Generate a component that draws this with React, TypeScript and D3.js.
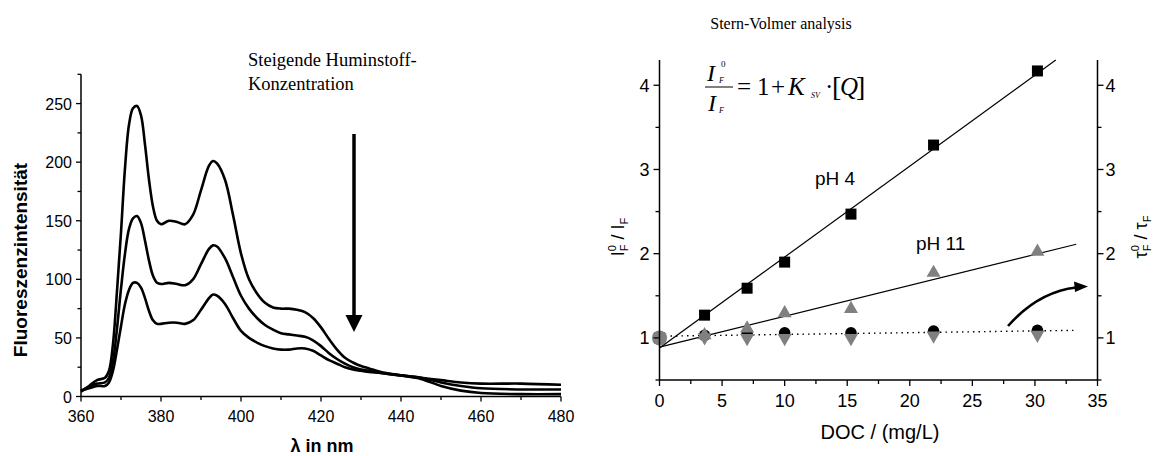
import React from 'react';
import * as d3 from 'd3';

// ---------- Left chart data (fluorescence spectra) ----------
const wavelengths = [360,362,364,366,367,368,369,370,371,372,373,374,375,376,377,378,379,380,382,384,386,388,390,392,393,394,396,398,400,402,404,406,408,410,412,414,416,418,420,422,424,426,428,430,432,435,440,445,450,455,460,470,480];
const spectrumLow = [4,9,14,16,22,45,90,140,195,232,246,248,240,215,185,162,150,147,150,149,147,155,176,197,201,199,185,155,122,100,88,80,76,75,75,74,72,67,59,49,40,33,29,26,24,21,18,15,9,5,3,2,2];
const spectrumMid = [5,8,11,12,16,30,58,92,122,143,152,154,148,133,116,103,97,96,97,96,95,100,113,126,129,128,118,102,86,75,67,61,57,54,53,52,51,48,43,37,32,28,25,23,22,20,18,16,12,9,7,6,6];
const spectrumHigh = [5,7,9,9,12,22,40,60,79,91,97,97,93,84,73,65,62,62,63,63,62,65,74,84,87,86,79,67,56,50,46,43,41,40,40,41,41,39,35,31,28,25,23,22,21,20,18,16,14,12,11,11,10];
const leftXTicks = [360,380,400,420,440,460,480];
const leftYTicks = [0,50,100,150,200,250];

// ---------- Right chart data (Stern-Volmer) ----------
const doc = [0, 3.6, 7, 10, 15.3, 21.9, 30.2];
const ratioPH4 = [1.0, 1.27, 1.59, 1.9, 2.47, 3.29, 4.17];
const ratioPH11 = [1.0, 1.04, 1.12, 1.3, 1.35, 1.78, 2.03];
const tauPH4 = [1.0, 1.03, 1.05, 1.06, 1.06, 1.08, 1.09];
const tauPH11 = [1.0, 1.0, 0.99, 0.99, 0.99, 1.02, 1.03];
const fitPH4 = { a: 0.88, b: 0.108, xMax: 31.7 };
const fitPH11 = { a: 0.89, b: 0.0367, xMax: 33.3 };
const fitTau = { a: 1.02, b: 0.0021, xMax: 33.3 };
const rightXTicks = [0,5,10,15,20,25,30,35];
const rightYTicks = [1,2,3,4];

const GRAY = '#808080';
const SANS = 'Arial, "Liberation Sans", Helvetica, sans-serif';
const SERIF = '"Times New Roman", "Liberation Serif", Times, serif';

export default function App() {
  const W = 1156, H = 456;

  const xL = d3.scaleLinear().domain([360, 480]).range([81, 561]);
  const yL = d3.scaleLinear().domain([0, 275]).range([396.5, 74.3]);
  const lineL = d3.line<number>()
    .x((_, i) => xL(wavelengths[i]))
    .y((d) => yL(d))
    .curve(d3.curveCatmullRom.alpha(0.5));

  const xR = d3.scaleLinear().domain([0, 35]).range([659.5, 1097.5]);
  const yR = d3.scaleLinear().domain([0.5, 4.3]).range([380, 60]);

  const leftMinorX = d3.range(370, 480, 20);
  const leftMinorY = d3.range(25, 276, 50);
  const rightMinorX = d3.range(2.5, 35, 5);
  const rightMinorY = [0.5, 1.5, 2.5, 3.5];

  const fitLine = (f: { a: number; b: number; xMax: number }) => {
    const yTop = 4.3;
    let x2 = f.xMax;
    if (f.a + f.b * x2 > yTop) x2 = (yTop - f.a) / f.b;
    return { x1: xR(0), y1: yR(f.a), x2: xR(x2), y2: yR(f.a + f.b * x2) };
  };
  const l4 = fitLine(fitPH4);
  const l11 = fitLine(fitPH11);
  const lt = fitLine(fitTau);

  const sq = 11;
  const triUp = (cx: number, cy: number, s = 14) => {
    const h = s * 0.87;
    return `M${cx},${cy - h * 0.62} L${cx + s / 2},${cy + h * 0.38} L${cx - s / 2},${cy + h * 0.38} Z`;
  };
  const triDown = (cx: number, cy: number, s = 14) => {
    const h = s * 0.87;
    return `M${cx},${cy + h * 0.62} L${cx + s / 2},${cy - h * 0.38} L${cx - s / 2},${cy - h * 0.38} Z`;
  };

  return (
    <svg width={W} height={H} viewBox={`0 0 ${W} ${H}`}
      style={{ position: 'absolute', left: 0, top: 0, background: '#fff' }}>
      {/* ================= LEFT CHART ================= */}
      <g>
        {[spectrumLow, spectrumMid, spectrumHigh].map((s, k) => (
          <path key={k} d={lineL(s) || ''} fill="none" stroke="#000" strokeWidth={2.6} strokeLinejoin="round" />
        ))}
        <line x1={xL(360)} x2={xL(480)} y1={yL(0)} y2={yL(0)} stroke="#000" strokeWidth={1.5} />
        <line x1={xL(360)} x2={xL(360)} y1={yL(0)} y2={yL(275)} stroke="#000" strokeWidth={1.5} />
        {leftXTicks.map((t) => (
          <g key={'lx' + t}>
            <line x1={xL(t)} x2={xL(t)} y1={yL(0)} y2={yL(0) + 5} stroke="#000" strokeWidth={1.3} />
            <text x={xL(t)} y={yL(0) + 25} textAnchor="middle" fontFamily={SANS} fontSize={16}>{t}</text>
          </g>
        ))}
        {leftMinorX.map((t) => (
          <line key={'lmx' + t} x1={xL(t)} x2={xL(t)} y1={yL(0)} y2={yL(0) + 3.5} stroke="#000" strokeWidth={1.3} />
        ))}
        {leftYTicks.map((t) => (
          <g key={'ly' + t}>
            <line x1={xL(360) - 5} x2={xL(360)} y1={yL(t)} y2={yL(t)} stroke="#000" strokeWidth={1.3} />
            <text x={xL(360) - 9} y={yL(t) + 6} textAnchor="end" fontFamily={SANS} fontSize={16}>{t}</text>
          </g>
        ))}
        {leftMinorY.map((t) => (
          <line key={'lmy' + t} x1={xL(360) - 3.5} x2={xL(360)} y1={yL(t)} y2={yL(t)} stroke="#000" strokeWidth={1.3} />
        ))}
        <text x={322} y={452} textAnchor="middle" fontFamily={SANS} fontSize={18} fontWeight="bold">λ in nm</text>
        <text transform="translate(27,260) rotate(-90)" textAnchor="middle" fontFamily={SANS} fontSize={19} fontWeight="bold">Fluoreszenzintensität</text>
        <text x={248} y={66} fontFamily={SERIF} fontSize={18.5}>Steigende Huminstoff-</text>
        <text x={248} y={90} fontFamily={SERIF} fontSize={18.5}>Konzentration</text>
        <line x1={354} x2={354} y1={134} y2={318} stroke="#000" strokeWidth={3.5} />
        <path d="M345.5,315 L362.5,315 L354,332 Z" fill="#000" />
      </g>

      {/* ================= RIGHT CHART ================= */}
      <g>
        <text x={781} y={29} textAnchor="middle" fontFamily={SERIF} fontSize={16}>Stern-Volmer analysis</text>

        {/* equation */}
        <g fontFamily={SERIF}>
          <text x={707} y={81} fontSize={24} fontStyle="italic">I</text>
          <text x={721} y={67} fontSize={9}>0</text>
          <text x={719} y={83} fontSize={8} fontStyle="italic">F</text>
          <line x1={705} x2={733} y1={87} y2={87} stroke="#000" strokeWidth={1} />
          <text x={708} y={111} fontSize={24} fontStyle="italic">I</text>
          <text x={719} y={113} fontSize={8} fontStyle="italic">F</text>
          <text x={737} y={95} fontSize={25}>=</text>
          <text x={757} y={95} fontSize={25}>1</text>
          <text x={771} y={95} fontSize={25}>+</text>
          <text x={788} y={95} fontSize={25} fontStyle="italic">K</text>
          <text x={811} y={98} fontSize={8} fontStyle="italic">SV</text>
          <text x={825} y={95} fontSize={25}>·</text>
          <text x={832} y={96} fontSize={28}>[</text>
          <text x={840} y={95} fontSize={25} fontStyle="italic">Q</text>
          <text x={856} y={96} fontSize={28}>]</text>
        </g>

        <line {...l4} stroke="#000" strokeWidth={1.2} />
        <line {...l11} stroke="#000" strokeWidth={1.2} />
        <line {...lt} stroke="#000" strokeWidth={1.4} strokeDasharray="1.5,4" />

        {doc.map((x, i) => (
          <rect key={'sq' + i} x={xR(x) - sq / 2} y={yR(ratioPH4[i]) - sq / 2} width={sq} height={sq} fill="#000" />
        ))}
        {doc.map((x, i) => (
          <circle key={'c' + i} cx={xR(x)} cy={yR(tauPH4[i])} r={i === 0 ? 7.5 : 5.8} fill={i === 0 ? GRAY : '#000'} />
        ))}
        {doc.map((x, i) => (
          <path key={'td' + i} d={triDown(xR(x), yR(tauPH11[i]))} fill={GRAY} />
        ))}
        {doc.map((x, i) => (
          <path key={'tu' + i} d={triUp(xR(x), yR(ratioPH11[i]))} fill={GRAY} />
        ))}

        <text x={815} y={185} fontFamily={SANS} fontSize={19}>pH 4</text>
        <text x={916} y={250} fontFamily={SANS} fontSize={19}>pH 11</text>

        <path d="M1008,326 Q1038,292 1076,287.5" fill="none" stroke="#000" strokeWidth={2.6} />
        <path d="M1088,286.5 L1074,281.5 L1075,292 Z" fill="#000" />

        <line x1={xR(0)} x2={xR(35)} y1={yR(0.5)} y2={yR(0.5)} stroke="#000" strokeWidth={1.5} />
        <line x1={xR(0)} x2={xR(0)} y1={yR(0.5)} y2={yR(4.3)} stroke="#000" strokeWidth={1.5} />
        <line x1={xR(35)} x2={xR(35)} y1={yR(0.5)} y2={yR(4.3)} stroke="#000" strokeWidth={1.5} />
        {rightXTicks.map((t) => (
          <g key={'rx' + t}>
            <line x1={xR(t)} x2={xR(t)} y1={yR(0.5)} y2={yR(0.5) + 6} stroke="#000" strokeWidth={1.3} />
            <text x={xR(t)} y={yR(0.5) + 27} textAnchor="middle" fontFamily={SANS} fontSize={18}>{t}</text>
          </g>
        ))}
        {rightMinorX.map((t) => (
          <line key={'rmx' + t} x1={xR(t)} x2={xR(t)} y1={yR(0.5)} y2={yR(0.5) + 4} stroke="#000" strokeWidth={1.3} />
        ))}
        {rightYTicks.map((t) => (
          <g key={'ry' + t}>
            <line x1={xR(0) - 6} x2={xR(0)} y1={yR(t)} y2={yR(t)} stroke="#000" strokeWidth={1.3} />
            <text x={xR(0) - 10} y={yR(t) + 6.5} textAnchor="end" fontFamily={SANS} fontSize={18}>{t}</text>
            <line x1={xR(35)} x2={xR(35) + 6} y1={yR(t)} y2={yR(t)} stroke="#000" strokeWidth={1.3} />
            <text x={xR(35) + 8} y={yR(t) + 6.5} textAnchor="start" fontFamily={SANS} fontSize={18}>{t}</text>
          </g>
        ))}
        {rightMinorY.map((t) => (
          <g key={'rmy' + t}>
            <line x1={xR(0) - 4} x2={xR(0)} y1={yR(t)} y2={yR(t)} stroke="#000" strokeWidth={1.3} />
            <line x1={xR(35)} x2={xR(35) + 4} y1={yR(t)} y2={yR(t)} stroke="#000" strokeWidth={1.3} />
          </g>
        ))}
        <text x={880} y={439} textAnchor="middle" fontFamily={SANS} fontSize={20}>DOC / (mg/L)</text>

        <text transform="translate(624,237) rotate(-90)" textAnchor="middle" fontFamily={SANS} fontSize={18}>
          I<tspan fontSize={11} dy={-8}>0</tspan><tspan fontSize={11} dx={-6} dy={12}>F</tspan><tspan dy={-4}> / I</tspan><tspan fontSize={11} dy={4}>F</tspan>
        </text>
        <text transform="translate(1147,237) rotate(-90)" textAnchor="middle" fontFamily={SANS} fontSize={18}>
          τ<tspan fontSize={11} dy={-8}>0</tspan><tspan fontSize={11} dx={-6} dy={12}>F</tspan><tspan dy={-4}> / τ</tspan><tspan fontSize={11} dy={4}>F</tspan>
        </text>
      </g>
    </svg>
  );
}
